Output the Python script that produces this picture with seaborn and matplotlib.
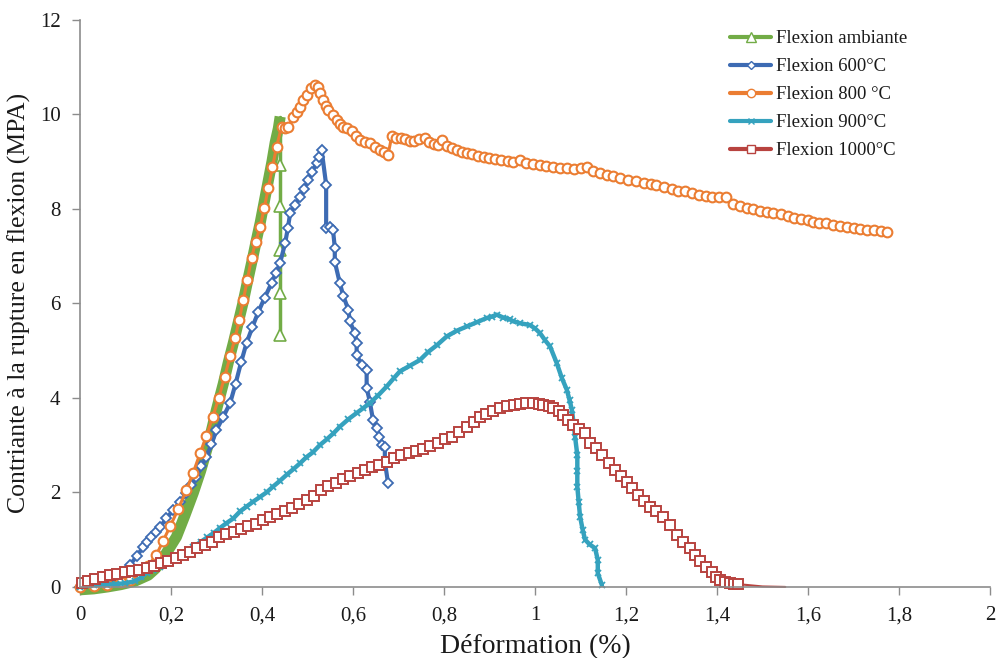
import matplotlib
matplotlib.use("Agg")
import matplotlib.pyplot as plt
from matplotlib.lines import Line2D
import seaborn as sns

# ---- measured curves: strain (%) vs flexural stress (MPa) ----
amb_x = [0.0, 0.03, 0.06, 0.09, 0.12, 0.15, 0.165, 0.176, 0.19, 0.212, 0.23, 0.249,
         0.265, 0.28, 0.30, 0.315, 0.326, 0.337, 0.348, 0.358, 0.369, 0.38, 0.388,
         0.396, 0.405, 0.414, 0.422, 0.429, 0.436, 0.44,
         0.44, 0.44, 0.44, 0.44, 0.44]
amb_y = [-0.06, -0.04, 0.0, 0.05, 0.12, 0.25, 0.38, 0.5, 0.72, 1.06, 1.5, 1.99,
         2.45, 2.95, 3.75, 4.3, 4.75, 5.16, 5.6, 6.0, 6.5, 6.98, 7.35,
         7.7, 8.15, 8.6, 9.0, 9.4, 9.7, 9.95,
         8.93, 8.05, 7.13, 6.22, 5.33]

t600_x = [0.0, 0.03, 0.06, 0.085, 0.11, 0.125, 0.139, 0.148, 0.157, 0.166, 0.176, 0.19,
          0.205, 0.22, 0.234, 0.245, 0.256, 0.267, 0.278, 0.289, 0.30, 0.315, 0.33,
          0.342, 0.354, 0.366, 0.379, 0.392, 0.406, 0.421, 0.431, 0.44, 0.451, 0.457,
          0.462, 0.473, 0.484, 0.493, 0.501, 0.51, 0.52, 0.526, 0.531,
          0.541, 0.541, 0.549, 0.556, 0.56, 0.56, 0.571, 0.579, 0.59, 0.593, 0.604,
          0.608, 0.608, 0.619, 0.63, 0.63, 0.637, 0.644, 0.652, 0.658, 0.663, 0.67,
          0.67, 0.677]
t600_y = [0.0, 0.05, 0.12, 0.25, 0.47, 0.65, 0.85, 0.95, 1.05, 1.16, 1.27, 1.45,
          1.63, 1.8, 1.99, 2.15, 2.33, 2.55, 2.75, 3.02, 3.32, 3.6, 3.89,
          4.3, 4.75, 5.16, 5.5, 5.82, 6.12, 6.43, 6.65, 6.86, 7.28, 7.6,
          7.91, 8.08, 8.25, 8.42, 8.61, 8.78, 8.97, 9.1, 9.25,
          8.51, 7.6, 7.62, 7.56, 7.18, 6.88, 6.43, 6.15, 5.86, 5.62, 5.37,
          5.16, 4.91, 4.70, 4.59, 4.21, 3.92, 3.53, 3.36, 3.18, 3.0, 2.97,
          2.65, 2.2]

t800_x = [0.0, 0.03, 0.06, 0.09, 0.11, 0.13, 0.15, 0.168, 0.183, 0.198, 0.216, 0.234,
          0.249, 0.264, 0.278, 0.292, 0.305, 0.318, 0.330, 0.341, 0.350, 0.359, 0.368,
          0.377, 0.386, 0.396, 0.405, 0.414, 0.423, 0.432, 0.443, 0.45, 0.457, 0.469,
          0.477, 0.484, 0.491, 0.498, 0.507, 0.516, 0.522, 0.528, 0.534, 0.54, 0.545,
          0.555, 0.564, 0.571, 0.578, 0.587, 0.597, 0.606, 0.615, 0.626, 0.637, 0.648,
          0.659, 0.668, 0.677, 0.685, 0.695, 0.705, 0.715, 0.725, 0.733, 0.745, 0.758,
          0.767, 0.777, 0.787, 0.795, 0.806, 0.817, 0.828, 0.84, 0.85, 0.862, 0.875,
          0.887, 0.9, 0.913, 0.926, 0.94, 0.952, 0.967, 0.98, 0.995, 1.011, 1.025,
          1.04, 1.055, 1.07, 1.085, 1.1, 1.114, 1.127, 1.143, 1.158, 1.172, 1.187,
          1.205, 1.223, 1.24, 1.255, 1.267, 1.283, 1.3, 1.315, 1.33, 1.345, 1.36,
          1.375, 1.39, 1.405, 1.42, 1.435, 1.45, 1.465, 1.48, 1.495, 1.51, 1.524,
          1.54, 1.555, 1.57, 1.585, 1.6, 1.611, 1.625, 1.64, 1.655, 1.67, 1.685,
          1.7, 1.715, 1.73, 1.745, 1.76, 1.773]
t800_y = [0.0, 0.02, 0.05, 0.1, 0.15, 0.28, 0.45, 0.68, 0.98, 1.28, 1.65, 2.05,
          2.42, 2.83, 3.2, 3.6, 4.0, 4.45, 4.88, 5.27, 5.65, 6.07, 6.5,
          6.96, 7.3, 7.62, 8.02, 8.44, 8.88, 9.31, 9.74, 9.72, 9.74, 9.95,
          10.05, 10.16, 10.3, 10.41, 10.55, 10.62, 10.58, 10.45, 10.3, 10.18, 10.1,
          9.98, 9.88, 9.8, 9.74, 9.7, 9.64, 9.55, 9.46, 9.42, 9.39, 9.3,
          9.25, 9.2, 9.14, 9.53, 9.5, 9.49, 9.48, 9.44, 9.43, 9.48, 9.5,
          9.42, 9.38, 9.35, 9.46, 9.32, 9.28, 9.25, 9.2, 9.18, 9.15, 9.12,
          9.1, 9.07, 9.05, 9.03, 9.02, 9.0, 9.04, 8.97, 8.95, 8.93, 8.9,
          8.88, 8.87, 8.86, 8.85, 8.87, 8.89, 8.79, 8.75, 8.72, 8.69, 8.65,
          8.62, 8.58, 8.55, 8.52, 8.51, 8.47, 8.42, 8.38, 8.37, 8.33, 8.3,
          8.28, 8.26, 8.24, 8.25, 8.1, 8.06, 8.02, 8.0, 7.96, 7.93, 7.91,
          7.88, 7.84, 7.8, 7.78, 7.76, 7.73, 7.71, 7.69, 7.66, 7.63, 7.61,
          7.59, 7.57, 7.56, 7.55, 7.54, 7.5]

t900_x = [0.0, 0.03, 0.06, 0.08, 0.10, 0.12, 0.135, 0.147, 0.16, 0.175, 0.198, 0.21,
          0.225, 0.249, 0.265, 0.28, 0.295, 0.308, 0.322, 0.337, 0.352, 0.366, 0.38,
          0.395, 0.41, 0.424, 0.44, 0.455, 0.47, 0.484, 0.497, 0.512, 0.527, 0.542,
          0.557, 0.571, 0.59, 0.608, 0.622, 0.637, 0.655, 0.674, 0.69, 0.703, 0.725,
          0.747, 0.765, 0.785, 0.806, 0.828, 0.85, 0.872, 0.894, 0.905, 0.916, 0.93,
          0.945, 0.952, 0.967, 0.989, 1.0, 1.011, 1.022, 1.033, 1.048, 1.059, 1.07,
          1.076, 1.081, 1.085, 1.088, 1.093, 1.093, 1.093, 1.096, 1.099, 1.105, 1.11,
          1.12, 1.132, 1.138, 1.138, 1.147]
t900_y = [0.0, 0.04, 0.05, 0.06, 0.08, 0.12, 0.2, 0.3, 0.36, 0.42, 0.5, 0.6,
          0.7, 0.85, 0.95, 1.05, 1.15, 1.25, 1.35, 1.45, 1.6, 1.7, 1.8,
          1.9, 2.0, 2.12, 2.25, 2.38, 2.5, 2.62, 2.74, 2.85, 3.0, 3.12,
          3.25, 3.39, 3.55, 3.68, 3.78, 3.89, 4.05, 4.24, 4.42, 4.56, 4.68,
          4.80, 4.97, 5.12, 5.30, 5.42, 5.51, 5.6, 5.69, 5.72, 5.76, 5.7,
          5.66, 5.62, 5.58, 5.54, 5.47, 5.37, 5.22, 5.09, 4.73, 4.42, 4.17,
          3.95, 3.75, 3.45, 3.18, 2.79, 2.45, 2.12, 1.8, 1.49, 1.2, 1.0,
          0.9, 0.82, 0.57, 0.29, 0.04]

t1000_x = [0.004, 0.018, 0.033, 0.05, 0.066, 0.082, 0.098, 0.114, 0.13, 0.147, 0.162,
           0.178, 0.194, 0.21, 0.226, 0.242, 0.258, 0.274, 0.29, 0.306, 0.322, 0.338,
           0.354, 0.37, 0.386, 0.402, 0.418, 0.434, 0.45, 0.466, 0.482, 0.498, 0.514,
           0.53, 0.546, 0.562, 0.578, 0.594, 0.61, 0.626, 0.642, 0.658, 0.674, 0.69,
           0.706, 0.722, 0.738, 0.754, 0.77, 0.786, 0.802, 0.818, 0.834, 0.85, 0.865,
           0.879, 0.893, 0.908, 0.923, 0.938, 0.953, 0.967, 0.981, 0.996, 1.008, 1.018,
           1.03, 1.04, 1.052, 1.062, 1.073, 1.084, 1.097, 1.11, 1.121, 1.134, 1.147,
           1.162, 1.176, 1.189, 1.202, 1.214, 1.226, 1.24, 1.253, 1.267, 1.281, 1.296,
           1.311, 1.326, 1.341, 1.352, 1.363, 1.376, 1.388, 1.398, 1.407, 1.418, 1.429,
           1.438, 1.446, 1.50, 1.55]
t1000_y = [0.08, 0.12, 0.17, 0.22, 0.25, 0.28, 0.31, 0.33, 0.36, 0.40, 0.45,
           0.5, 0.55, 0.61, 0.68, 0.74, 0.82, 0.88, 0.96, 1.05, 1.11, 1.17,
           1.22, 1.28, 1.34, 1.41, 1.48, 1.55, 1.61, 1.68, 1.76, 1.84, 1.93,
           2.05, 2.13, 2.2, 2.28, 2.35, 2.42, 2.48, 2.53, 2.58, 2.65, 2.72,
           2.79, 2.84, 2.88, 2.92, 2.99, 3.05, 3.12, 3.18, 3.27, 3.38, 3.5,
           3.6, 3.66, 3.72, 3.79, 3.83, 3.85, 3.87, 3.89, 3.89, 3.87, 3.85,
           3.82, 3.79, 3.72, 3.64, 3.54, 3.43, 3.35, 3.26, 3.05, 2.93, 2.79,
           2.63, 2.48, 2.35, 2.23, 2.09, 1.95, 1.82, 1.7, 1.6, 1.49, 1.3,
           1.10, 0.95, 0.82, 0.68, 0.54, 0.42, 0.32, 0.22, 0.15, 0.1, 0.08,
           0.07, 0.06, 0.01, 0.0]

labels = ["Flexion ambiante", "Flexion 600°C", "Flexion 800 °C",
          "Flexion 900°C", "Flexion 1000°C"]
x_ticks = [0, 0.2, 0.4, 0.6, 0.8, 1.0, 1.2, 1.4, 1.6, 1.8, 2.0]
x_tick_labels = ["0", "0,2", "0,4", "0,6", "0,8", "1", "1,2", "1,4", "1,6", "1,8", "2"]
y_ticks = [0, 2, 4, 6, 8, 10, 12]

# ---- styling ----
sns.set_style("white")
plt.rcParams["font.family"] = ["Liberation Serif", "DejaVu Serif"]

c_amb = "#72AC46"
c_600 = "#3D6BB3"
c_800 = "#EB7D32"
c_900 = "#35A2BE"
c_1000 = "#B8433F"

fig = plt.figure(figsize=(9.96, 6.58), dpi=100)
ax = fig.add_axes([0.0803, 0.108, 0.9137, 0.862])

n_rise = 30  # points before the rupture of the room-temperature sample

# room temperature: thick rising band, then hollow triangles on the rupture drop
sns.lineplot(x=amb_x[:n_rise], y=amb_y[:n_rise], sort=False, estimator=None,
             color=c_amb, linewidth=8, solid_capstyle="butt", ax=ax, clip_on=False)
sns.lineplot(x=amb_x[n_rise - 1:], y=amb_y[n_rise - 1:], sort=False, estimator=None,
             color=c_amb, linewidth=2.5, marker="^", markersize=8,
             markerfacecolor="white", markeredgecolor=c_amb, markeredgewidth=1.2,
             markevery=list(range(1, len(amb_x) - n_rise + 1)), ax=ax)

sns.lineplot(x=t600_x, y=t600_y, sort=False, estimator=None, color=c_600,
             linewidth=3, marker="D", markersize=5, markerfacecolor="white",
             markeredgecolor=c_600, markeredgewidth=1.3, ax=ax, clip_on=False)

sns.lineplot(x=t800_x, y=t800_y, sort=False, estimator=None, color=c_800,
             linewidth=2.2, marker="o", markersize=7, markerfacecolor="white",
             markeredgecolor=c_800, markeredgewidth=1.5, ax=ax, clip_on=False)

sns.lineplot(x=t900_x, y=t900_y, sort=False, estimator=None, color=c_900,
             linewidth=3.2, marker="x", markersize=5, markeredgecolor=c_900,
             markeredgewidth=1.3, ax=ax, clip_on=False)

n_mark_1000 = len(t1000_x) - 2
sns.lineplot(x=t1000_x, y=t1000_y, sort=False, estimator=None, color=c_1000,
             linewidth=1.5, marker="s", markersize=6.5, markerfacecolor="white",
             markeredgecolor=c_1000, markeredgewidth=1.4,
             markevery=list(range(n_mark_1000)), ax=ax, clip_on=False)

# ---- axes ----
ax.set_xlim(0, 2)
ax.set_ylim(0, 12)
ax.set_xticks(x_ticks)
ax.set_xticklabels(x_tick_labels)
ax.set_yticks(y_ticks)
ax.tick_params(axis="both", direction="out", length=6, width=1, color="#8c8c8c",
               labelsize=15, labelcolor="#1a1a1a", pad=8, left=True, bottom=True)
for side in ("top", "right"):
    ax.spines[side].set_visible(False)
for side in ("left", "bottom"):
    ax.spines[side].set_color("#8c8c8c")
    ax.spines[side].set_linewidth(1.2)

ax.set_xlabel("Déformation (%)", fontsize=20, color="#1a1a1a", labelpad=6)
ax.set_ylabel("Contriante à la rupture en flexion (MPA)", fontsize=18.5,
              color="#1a1a1a", labelpad=6)

# ---- legend ----
handles = [
    Line2D([], [], color=c_amb, linewidth=3, marker="^", markersize=7,
           markerfacecolor="white", markeredgecolor=c_amb),
    Line2D([], [], color=c_600, linewidth=3, marker="D", markersize=4,
           markerfacecolor="white", markeredgecolor=c_600),
    Line2D([], [], color=c_800, linewidth=3, marker="o", markersize=6,
           markerfacecolor="white", markeredgecolor=c_800),
    Line2D([], [], color=c_900, linewidth=3, marker="x", markersize=4,
           markeredgecolor=c_900),
    Line2D([], [], color=c_1000, linewidth=3, marker="s", markersize=6,
           markerfacecolor="white", markeredgecolor=c_1000),
]
leg = ax.legend(handles, labels, loc="upper left", bbox_to_anchor=(0.706, 0.995),
                frameon=False, fontsize=13.5, handlelength=2.2, handletextpad=0.25,
                labelspacing=0.58, borderaxespad=0.0)
for t in leg.get_texts():
    t.set_color("#1a1a1a")

fig.savefig("out.png", dpi=100)
